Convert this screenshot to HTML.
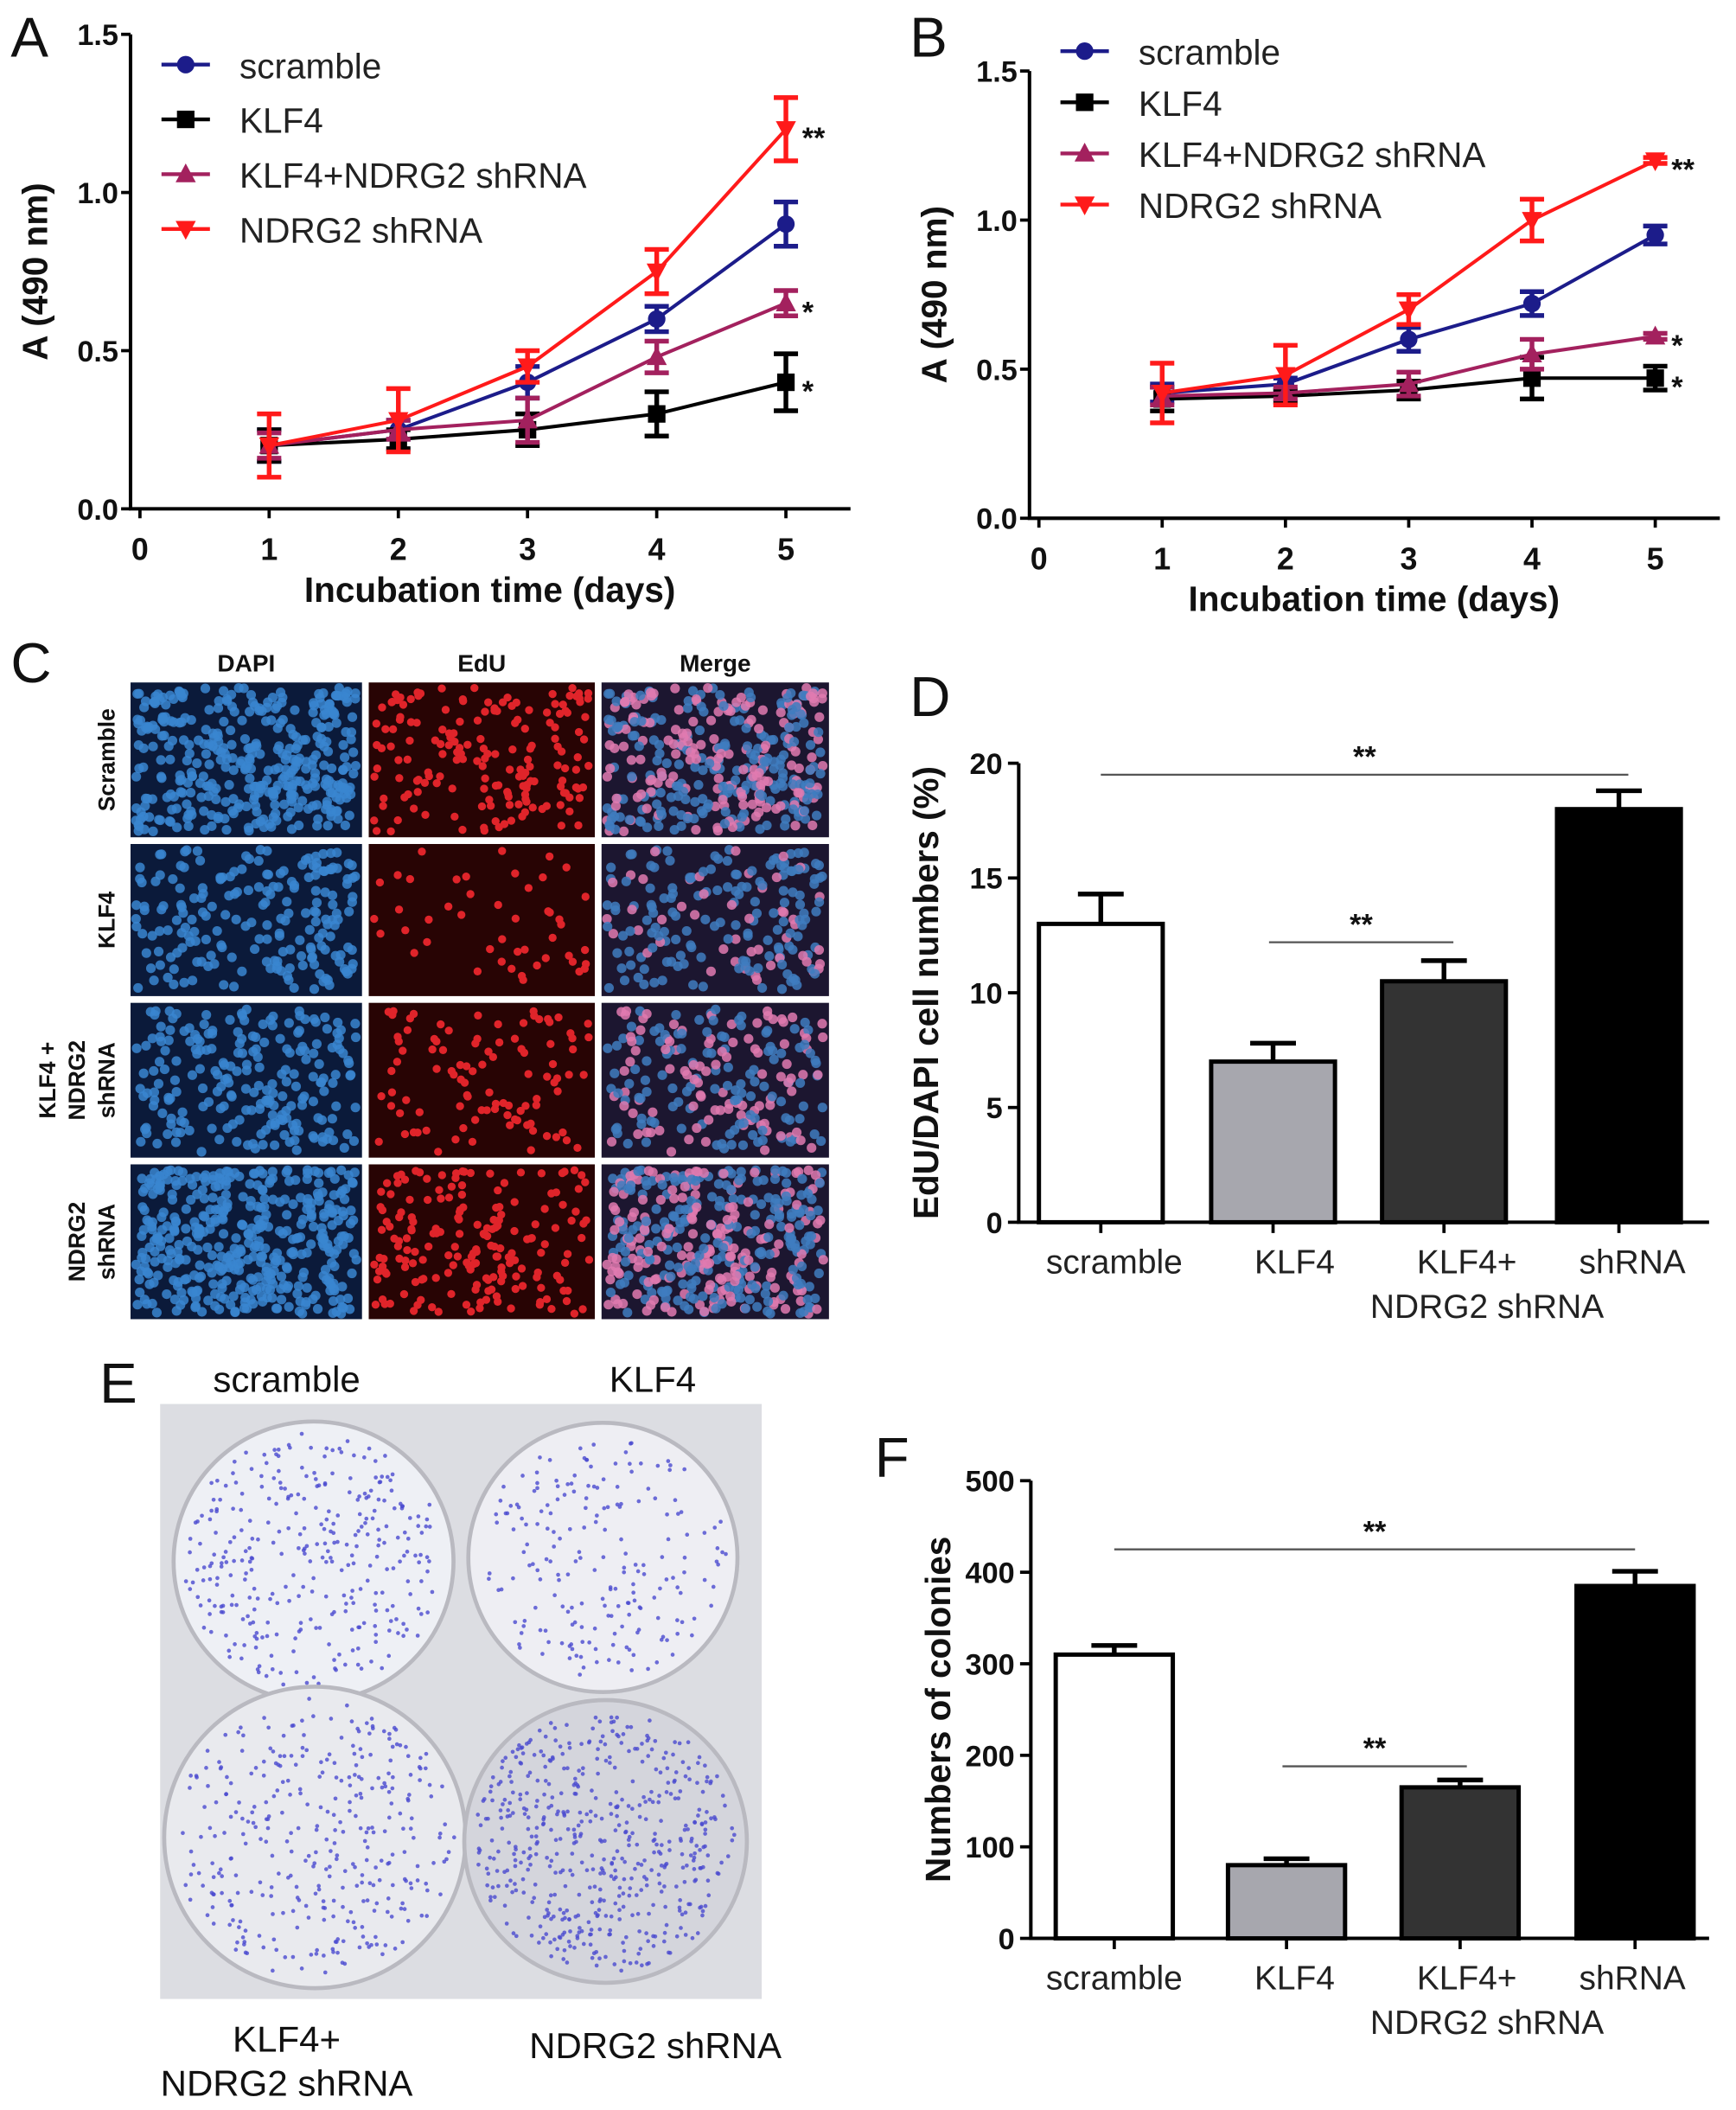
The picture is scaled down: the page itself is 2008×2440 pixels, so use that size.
<!DOCTYPE html>
<html><head><meta charset="utf-8">
<style>
html,body{margin:0;padding:0;background:#fff;}
svg{display:block;}
text{font-family:"Liberation Sans",Arial,sans-serif;}
</style></head>
<body>
<svg id="fig" width="2008" height="2440" viewBox="0 0 1290 1567.5" preserveAspectRatio="none" xmlns="http://www.w3.org/2000/svg">
<rect x="0" y="0" width="1290" height="1568" fill="#fff"/>
</svg>
<script>
// ---------- data ----------
const days = [1, 2, 3, 4, 5];
const seriesNames = ["scramble", "KLF4", "KLF4+NDRG2 shRNA", "NDRG2 shRNA"];
const aScramble = [0.20, 0.25, 0.40, 0.60, 0.90];
const aScrambleErr = [0.05, 0.03, 0.05, 0.04, 0.07];
const aKlf4 = [0.20, 0.22, 0.25, 0.30, 0.40];
const aKlf4Err = [0.05, 0.03, 0.05, 0.07, 0.09];
const aKlf4N = [0.20, 0.25, 0.28, 0.48, 0.65];
const aKlf4NErr = [0.04, 0.03, 0.07, 0.05, 0.04];
const aNdrg2 = [0.20, 0.28, 0.45, 0.75, 1.20];
const aNdrg2Err = [0.10, 0.10, 0.05, 0.07, 0.10];
const bScramble = [0.42, 0.45, 0.60, 0.72, 0.95];
const bScrambleErr = [0.03, 0.02, 0.04, 0.04, 0.03];
const bKlf4 = [0.40, 0.41, 0.43, 0.47, 0.47];
const bKlf4Err = [0.04, 0.02, 0.03, 0.07, 0.04];
const bKlf4N = [0.41, 0.42, 0.45, 0.55, 0.61];
const bKlf4NErr = [0.03, 0.02, 0.04, 0.05, 0.01];
const bNdrg2 = [0.42, 0.48, 0.70, 1.00, 1.20];
const bNdrg2Err = [0.10, 0.10, 0.05, 0.07, 0.01];
const lineYTicks = [0, 0.5, 1.0, 1.5];
const lineYTickLabels = ["0.0", "0.5", "1.0", "1.5"];
const lineXTicks = [0, 1, 2, 3, 4, 5];
const barCats = ["scramble", "KLF4", "KLF4+ NDRG2 shRNA", "NDRG2 shRNA"];
const edu = [13, 7, 10.5, 18];
const eduErr = [1.3, 0.8, 0.9, 0.8];
const eduTicks = [0, 5, 10, 15, 20];
const colonies = [310, 80, 165, 385];
const coloniesErr = [10, 7, 8, 16];
const colTicks = [0, 100, 200, 300, 400, 500];

// ---------- helpers ----------
const NS = "http://www.w3.org/2000/svg";
const svg = document.getElementById("fig");
function mk(tag, attrs, parent) {
  const e = document.createElementNS(NS, tag);
  for (const k in attrs) e.setAttribute(k, attrs[k]);
  (parent || svg).appendChild(e);
  return e;
}
function txt(s, x, y, size, opts, parent) {
  const a = Object.assign({x: x, y: y, "font-size": size, fill: "#111"}, opts || {});
  const t = mk("text", a, parent);
  t.textContent = s;
  return t;
}
const colors = ["#1c1c8a", "#000000", "#a3215e", "#ff1a1a"];

function marker(g, kind, x, y, c) {
  let m;
  if (kind === 0) m = mk("circle", {cx: x, cy: y, r: 6.5, fill: c}, g);
  else if (kind === 1) m = mk("rect", {x: x - 6.5, y: y - 6.5, width: 13, height: 13, fill: c}, g);
  else if (kind === 2) m = mk("polygon", {points: `${x},${y-8} ${x+7.5},${y+6} ${x-7.5},${y+6}`, fill: c}, g);
  else m = mk("polygon", {points: `${x},${y+8} ${x+7.5},${y-6} ${x-7.5},${y-6}`, fill: c}, g);
  return m;
}

// ---------- line charts ----------
function lineChart(cfg) {
  const g = mk("g", {});
  
  
  const X = d => cfg.x0 + d * cfg.dx;
  const Y = v => cfg.y0 - v * cfg.dy;
  const ax = mk("path", {d: `M${cfg.axX},${Y(1.5)} V${cfg.y0} H${cfg.xEnd}`, stroke: "#000", "stroke-width": 2.6, fill: "none"}, g);
  
  
  lineYTicks.forEach((v, i) => {
    mk("line", {x1: cfg.axX - 7, x2: cfg.axX, y1: Y(v), y2: Y(v), stroke: "#000", "stroke-width": 2.4}, g);
    const t = txt(lineYTickLabels[i], cfg.axX - 9, Y(v) + 8, 22, {"text-anchor": "end", "font-weight": "bold"}, g);
    
    
  });
  lineXTicks.forEach(d => {
    mk("line", {x1: X(d), x2: X(d), y1: cfg.y0, y2: cfg.y0 + 7, stroke: "#000", "stroke-width": 2.4}, g);
    const t = txt(String(d), X(d), cfg.y0 + 38, 23, {"text-anchor": "middle", "font-weight": "bold"}, g);
    
    
  });
  const xt = txt("Incubation time (days)", (X(0) + X(5)) / 2 + 20, cfg.y0 + 69, 26, {"text-anchor": "middle", "font-weight": "bold"}, g);
  
  
  const yx = cfg.axX - 62, yy = Y(0.75);
  const yt = txt("A (490 nm)", yx, yy, 26, {"text-anchor": "middle", "font-weight": "bold", transform: `rotate(-90 ${yx} ${yy})`}, g);
  
  
  cfg.series.forEach((s, si) => {
    const c = colors[si];
    const sg = mk("g", {}, g);
    
    
    const pts = days.map((d, i) => `${X(d)},${Y(s.v[i])}`).join(" ");
    const pl = mk("polyline", {points: pts, fill: "none", stroke: c, "stroke-width": 2.6}, sg);
    
    
    days.forEach((d, i) => {
      const x = X(d), y1 = Y(s.v[i] + s.e[i]), y2 = Y(s.v[i] - s.e[i]);
      const eb = mk("path", {d: `M${x},${y1} V${y2} M${x-9},${y1} H${x+9} M${x-9},${y2} H${x+9}`, stroke: c, "stroke-width": 3.5, fill: "none"}, sg);
      
      
      const m = marker(sg, si, x, Y(s.v[i]), c);
      
      
    });
  });
  cfg.stars.forEach(st => {
    const t = txt(st[1], X(5) + 12, Y(st[0]) + 14, 22, {"font-weight": "bold"}, g);
    
    
  });
  const lg = mk("g", {}, g);
  
  
  seriesNames.forEach((n, i) => {
    const y = cfg.legY + i * cfg.legDy;
    const e = mk("g", {}, lg);
    
    
    mk("line", {x1: cfg.legX, x2: cfg.legX + 36, y1: y, y2: y, stroke: colors[i], "stroke-width": 2.8}, e);
    marker(e, i, cfg.legX + 18, y, colors[i]);
    txt(n, cfg.legX + 58, y + 10, 26, {fill: "#222"}, e);
  });
}

lineChart({name: "panel-a-line-chart", x0: 104, dx: 96, y0: 378, dy: 235, axX: 97, xEnd: 632,
  series: [{v: aScramble, e: aScrambleErr}, {v: aKlf4, e: aKlf4Err}, {v: aKlf4N, e: aKlf4NErr}, {v: aNdrg2, e: aNdrg2Err}],
  stars: [[1.2, "**"], [0.65, "*"], [0.4, "*"]], legX: 120, legY: 48, legDy: 40.7});
lineChart({name: "panel-b-line-chart", x0: 772, dx: 91.6, y0: 385, dy: 221.5, axX: 765, xEnd: 1278,
  series: [{v: bScramble, e: bScrambleErr}, {v: bKlf4, e: bKlf4Err}, {v: bKlf4N, e: bKlf4NErr}, {v: bNdrg2, e: bNdrg2Err}],
  stars: [[1.2, "**"], [0.61, "*"], [0.47, "*"]], legX: 788, legY: 38, legDy: 38});

// ---------- panel letters ----------
[["A", 8, 42], ["B", 676, 42], ["C", 8, 507], ["D", 676, 532], ["E", 74, 1042], ["F", 650, 1097]].forEach(p => {
  const t = txt(p[0], p[1], p[2], 42, {fill: "#111"});
  
  
});

// ---------- panel C microscopy ----------
(function () {
  const g = mk("g", {});
  
  
  const cols = [[97, 172], [274, 168], [447, 169]];
  const rows = [[507, 115], [627, 113], [745, 115], [865, 115]];
  const heads = ["DAPI", "EdU", "Merge"];
  heads.forEach((h, i) => {
    const t = txt(h, cols[i][0] + cols[i][1] / 2, 499, 18, {"text-anchor": "middle", "font-weight": "bold"}, g);
    
    
  });
  const rl = [["Scramble"], ["KLF4"], ["KLF4 +", "NDRG2", "shRNA"], ["NDRG2", "shRNA"]];
  rl.forEach((ls, r) => {
    const cy = rows[r][0] + rows[r][1] / 2;
    ls.forEach((l, k) => {
      const x = 85 - (ls.length - 1 - k) * 22;
      const t = txt(l, x, cy, 17, {"text-anchor": "middle", "font-weight": "bold", transform: `rotate(-90 ${x} ${cy})`}, g);
      
      
    });
  });
  let seed = 7;
  const rnd = () => { seed = (seed * 16807) % 2147483647; return seed / 2147483647; };
  const dens = [380, 200, 220, 420];
  rows.forEach((rw, r) => {
    const cells = [];
    for (let k = 0; k < dens[r]; k++) cells.push([rnd(), rnd(), rnd() < (r === 1 ? 0.25 : 0.45)]);
    cols.forEach((cl, c) => {
      const bg = c === 0 ? "#0b1a3a" : c === 1 ? "#280404" : "#1c1630";
      const im = mk("rect", {x: cl[0], y: rw[0], width: cl[1], height: rw[1], fill: bg}, g);
      
      
      cells.forEach(ce => {
        const x = cl[0] + 4 + ce[0] * (cl[1] - 8), y = rw[0] + 4 + ce[1] * (rw[1] - 8);
        if (c === 0) mk("circle", {cx: x, cy: y, r: 3.6, fill: "#3a86d0", opacity: 0.85}, g);
        else if (c === 1) { if (ce[2]) mk("circle", {cx: x, cy: y, r: 3, fill: "#e0242a"}, g); }
        else mk("circle", {cx: x, cy: y, r: 3.6, fill: ce[2] ? "#e07ab0" : "#3f7cc0", opacity: 0.85}, g);
      });
    });
  });
})();

// ---------- bar charts ----------
function barChart(cfg) {
  const g = mk("g", {});
  
  
  const Y = v => cfg.y0 - v * cfg.dy;
  const top = cfg.ticks[cfg.ticks.length - 1];
  const ax = mk("path", {d: `M${cfg.axX},${Y(top)} V${cfg.y0} H${cfg.xEnd}`, stroke: "#000", "stroke-width": 2.6, fill: "none"}, g);
  
  
  cfg.ticks.forEach(v => {
    mk("line", {x1: cfg.axX - 8, x2: cfg.axX, y1: Y(v), y2: Y(v), stroke: "#000", "stroke-width": 2.4}, g);
    const t = txt(String(v), cfg.axX - 12, Y(v) + 8, 22, {"text-anchor": "end", "font-weight": "bold"}, g);
    
    
  });
  const fills = ["#ffffff", "#a7a7ae", "#333333", "#000000"];
  cfg.vals.forEach((v, i) => {
    const cx = cfg.cx[i];
    const b = mk("rect", {x: cx - cfg.bw / 2, y: Y(v), width: cfg.bw, height: cfg.y0 - Y(v), fill: fills[i], stroke: "#000", "stroke-width": 3.2}, g);
    
    
    const ye = Y(v + cfg.err[i]);
    const eb = mk("path", {d: `M${cx},${Y(v)} V${ye} M${cx - 17},${ye} H${cx + 17}`, stroke: "#000", "stroke-width": 3.5, fill: "none"}, g);
    
    
    mk("line", {x1: cx, x2: cx, y1: cfg.y0, y2: cfg.y0 + 8, stroke: "#000", "stroke-width": 2.4}, g);
  });
  const lx = [828, 962, 1090, 1213];
  const l1 = ["scramble", "KLF4", "KLF4+", "shRNA"];
  l1.forEach((s, i) => {
    const t = txt(s, lx[i], cfg.y0 + 38, 25, {"text-anchor": "middle", fill: "#222"}, g);
    
    
  });
  const t2 = txt("NDRG2 shRNA", 1105, cfg.y0 + 71, 25, {"text-anchor": "middle", fill: "#222"}, g);
  
  
  cfg.sig.forEach(s => {
    const y = Y(s[2]);
    const ln = mk("line", {x1: s[0], x2: s[1], y1: y, y2: y, stroke: "#555", "stroke-width": 1.5}, g);
    
    
    const t = txt("**", (s[0] + s[1]) / 2, y - 6, 22, {"text-anchor": "middle", "font-weight": "bold"}, g);
    
    
  });
  const yx = cfg.axX - 60, yy = Y(top / 2);
  const yt = txt(cfg.ytitle, yx, yy, 26, {"text-anchor": "middle", "font-weight": "bold", transform: `rotate(-90 ${yx} ${yy})`}, g);
  
  
}
barChart({name: "panel-d-bar-chart", y0: 908, dy: 17.05, axX: 757, xEnd: 1270, ticks: eduTicks, vals: edu, err: eduErr,
  cx: [818, 946, 1073, 1203], bw: 92, sig: [[818, 1210, 19.5], [943, 1080, 12.2]], ytitle: "EdU/DAPI cell numbers (%)"});
barChart({name: "panel-f-bar-chart", y0: 1440, dy: 0.68, axX: 766, xEnd: 1270, ticks: colTicks, vals: colonies, err: coloniesErr,
  cx: [828, 956, 1085, 1215], bw: 87, sig: [[828, 1215, 425], [953, 1090, 188]], ytitle: "Numbers of colonies"});

// ---------- panel E photo ----------
(function () {
  const g = mk("g", {});
  
  
  const bg = mk("rect", {x: 119, y: 1043, width: 447, height: 442, fill: "#dcdde2"}, g);
  
  
  let seed = 11;
  const rnd = () => { seed = (seed * 16807) % 2147483647; return seed / 2147483647; };
  const dishes = [[233, 1160, 104, 320, "#eef0f5"], [448, 1157, 100, 200, "#eeeef3"], [234, 1365, 112, 340, "#e9eaee"], [450, 1368, 105, 520, "#d4d5dc"]];
  dishes.forEach(d => {
    const c = mk("circle", {cx: d[0], cy: d[1], r: d[2], fill: d[4], stroke: "#b9b9c0", "stroke-width": 3}, g);
    
    
    for (let k = 0; k < d[3]; k++) {
      const a = rnd() * 6.283, r = Math.sqrt(rnd()) * (d[2] - 8);
      mk("circle", {cx: d[0] + r * Math.cos(a), cy: d[1] + r * Math.sin(a), r: 1.5, fill: "#4a4ad0", opacity: 0.8}, g);
    }
  });
  [["scramble", 213, 1034], ["KLF4", 485, 1034], ["KLF4+", 213, 1524], ["NDRG2 shRNA", 213, 1557], ["NDRG2 shRNA", 487, 1529]].forEach(l => {
    const t = txt(l[0], l[1], l[2], 27, {"text-anchor": "middle", fill: "#111"}, g);
    
    
  });
})();
</script>
</body></html>
